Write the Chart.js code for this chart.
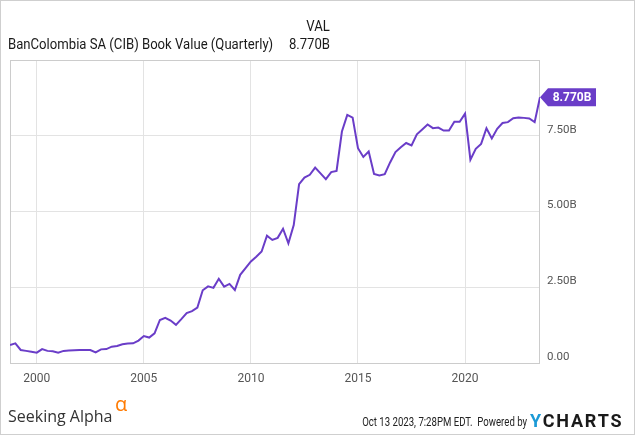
<!DOCTYPE html>
<html><head><meta charset="utf-8">
<script src="https://cdn.jsdelivr.net/npm/chart.js@4.4.0/dist/chart.umd.min.js"></script>
<style>
html,body{margin:0;padding:0;background:#fff;}
#wrap{position:relative;width:635px;height:435px;overflow:hidden;background:#fff;}
#c{position:absolute;left:0;top:0;}
.frame{position:absolute;left:0;top:0;width:635px;height:435px;box-sizing:border-box;border:1px solid #cfcfcf;pointer-events:none;}
.t{position:absolute;font-family:Roboto,sans-serif;color:#1a1a1a;white-space:nowrap;line-height:1;}
.l{transform-origin:left center;}
.r{transform-origin:right center;}
</style></head>
<body><div id="wrap">
<canvas id="c" width="635" height="435" style="width:635px;height:435px"></canvas>
<div class="t r" style="right:305px;top:19px;font-size:15px;transform:scaleX(0.875);">VAL</div>
<div class="t l" style="left:8px;top:37px;font-size:15px;transform:scaleX(0.875);">BanColombia SA (CIB) Book Value (Quarterly)</div>
<div class="t r" style="right:305px;top:37px;font-size:15px;transform:scaleX(0.875);">8.770B</div>
<div class="t" style="left:8px;top:408px;font-size:16px;font-family:'Open Sans',sans-serif;color:#333;">Seeking Alpha</div>
<div class="t" style="left:115px;top:394px;font-size:20px;font-family:'Open Sans',sans-serif;color:#ff7a00;">α</div>
<div class="t r" style="right:108px;top:416px;font-size:12px;color:#222;transform:scaleX(0.8);">Oct 13 2023, 7:28PM EDT.&nbsp;&nbsp;Powered by</div>
<div class="t" style="left:530px;top:412px;font-size:18px;font-weight:bold;font-family:Roboto,sans-serif;letter-spacing:1.8px;color:#1a1a1a;"><span style="color:#1c9ad6">Y</span>CHARTS</div>
<div class="frame"></div>
</div>
<script>
const quarters = [
"1998-09","1998-12",
"1999-03","1999-06","1999-09","1999-12",
"2000-03","2000-06","2000-09","2000-12",
"2001-03","2001-06","2001-09","2001-12",
"2002-03","2002-06","2002-09","2002-12",
"2003-03","2003-06","2003-09","2003-12",
"2004-03","2004-06","2004-09","2004-12",
"2005-03","2005-06","2005-09","2005-12",
"2006-03","2006-06","2006-09","2006-12",
"2007-03","2007-06","2007-09","2007-12",
"2008-03","2008-06","2008-09","2008-12",
"2009-03","2009-06","2009-09","2009-12",
"2010-03","2010-06","2010-09","2010-12",
"2011-03","2011-06","2011-09","2011-12",
"2012-03","2012-06","2012-09","2012-12",
"2013-03","2013-06","2013-09","2013-12",
"2014-03","2014-06","2014-09","2014-12",
"2015-03","2015-06","2015-09","2015-12",
"2016-03","2016-06","2016-09","2016-12",
"2017-03","2017-06","2017-09","2017-12",
"2018-03","2018-06","2018-09","2018-12",
"2019-03","2019-06","2019-09","2019-12",
"2020-03","2020-06","2020-09","2020-12",
"2021-03","2021-06","2021-09","2021-12",
"2022-03","2022-06","2022-09","2022-12",
"2023-03","2023-06"
];
// Book value, billions
const bookValue = [
0.59,0.65,0.43,0.40,0.37,0.34,0.46,0.40,0.39,0.34,
0.40,0.41,0.42,0.43,0.43,0.43,0.35,0.45,0.46,0.54,
0.56,0.62,0.64,0.65,0.74,0.89,0.84,0.98,1.42,1.49,
1.40,1.26,1.45,1.65,1.71,1.83,2.40,2.53,2.48,2.78,
2.52,2.61,2.41,2.91,3.13,3.35,3.51,3.68,4.20,4.06,
4.13,4.43,3.95,4.55,5.90,6.12,6.21,6.45,6.26,6.07,
6.30,6.34,7.64,8.19,8.10,7.09,6.80,6.98,6.24,6.19,
6.23,6.62,6.96,7.12,7.26,7.18,7.55,7.71,7.87,7.75,
7.77,7.67,7.67,7.96,7.96,8.23,6.71,7.07,7.23,7.75,
7.41,7.73,7.92,7.95,8.08,8.10,8.09,8.07,7.95,8.77
];
const xTickYears = [2000, 2005, 2010, 2015, 2020];
const yTicks = [0, 2.5, 5, 7.5, 10];
const lastLabel = "8.770B";

const LINE = '#6a3dc8';
function toYear(q){ const [y,m] = q.split('-').map(Number); return y + m/12; }
const points = quarters.map((q,i)=>({x: toYear(q), y: bookValue[i]}));

const framePlugin = {
  id:'frame',
  beforeDatasetsDraw(chart){
    const a = chart.chartArea, ctx = chart.ctx;
    ctx.save();
    ctx.strokeStyle = '#cccccc'; ctx.lineWidth = 1;
    ctx.strokeRect(Math.round(a.left)+0.5, Math.round(a.top)+0.5, Math.round(a.right-a.left)-1, Math.round(a.bottom-a.top));
    ctx.restore();
  },
  afterDraw(chart){
    const meta = chart.getDatasetMeta(0);
    const p = meta.data[meta.data.length-1];
    const ctx = chart.ctx;
    const tx = p.x, ty = p.y;
    const h = 18, w = 48, notch = 8;
    ctx.save();
    ctx.fillStyle = LINE;
    ctx.beginPath();
    ctx.moveTo(tx, ty);
    ctx.lineTo(tx+notch, ty-h/2);
    ctx.lineTo(tx+notch+w, ty-h/2);
    ctx.lineTo(tx+notch+w, ty+h/2);
    ctx.lineTo(tx+notch, ty+h/2);
    ctx.closePath();
    ctx.fill();
    ctx.fillStyle = '#fff';
    ctx.font = 'bold 12px Roboto, sans-serif';
    ctx.textAlign = 'center'; ctx.textBaseline = 'middle';
    ctx.fillText(lastLabel, tx+notch+w/2, ty+0.5);
    ctx.restore();
  }
};

new Chart(document.getElementById('c'), {
  type:'line',
  data:{ datasets:[{ data: points, borderColor: LINE, borderWidth: 2, pointRadius: 0, tension: 0, fill:false }]},
  options:{
    responsive:false, animation:false, devicePixelRatio:1,
    layout:{ padding:{ left:10, top:60, right:0, bottom:0 } },
    plugins:{ legend:{display:false}, tooltip:{enabled:false} },
    scales:{
      x:{
        type:'linear', min: points[0].x, max: points[points.length-1].x,
        afterBuildTicks(s){ s.ticks = xTickYears.map(v=>({value:v})); },
        afterFit(s){ s.height = 72; },
        grid:{ color:'#e3e3e3', drawTicks:false },
        border:{ display:false },
        ticks:{ padding:9, color:'#555', font:{ family:'Roboto, sans-serif', size:12 }, callback:v=>String(v), maxRotation:0 }
      },
      y:{
        position:'right', min:0, max:10,
        afterBuildTicks(s){ s.ticks = yTicks.map(v=>({value:v})); },
        afterFit(s){ s.width = 95; },
        grid:{ color:'#e3e3e3', drawTicks:false },
        border:{ display:false },
        ticks:{ padding:7, labelOffset:-6, color:'#555', font:{ family:'Roboto, sans-serif', size:11.5 },
          callback:v=> v===10 ? '' : (v===0 ? '0.00' : v.toFixed(2)+'B') }
      }
    }
  },
  plugins:[framePlugin]
});
</script>
</body></html>
